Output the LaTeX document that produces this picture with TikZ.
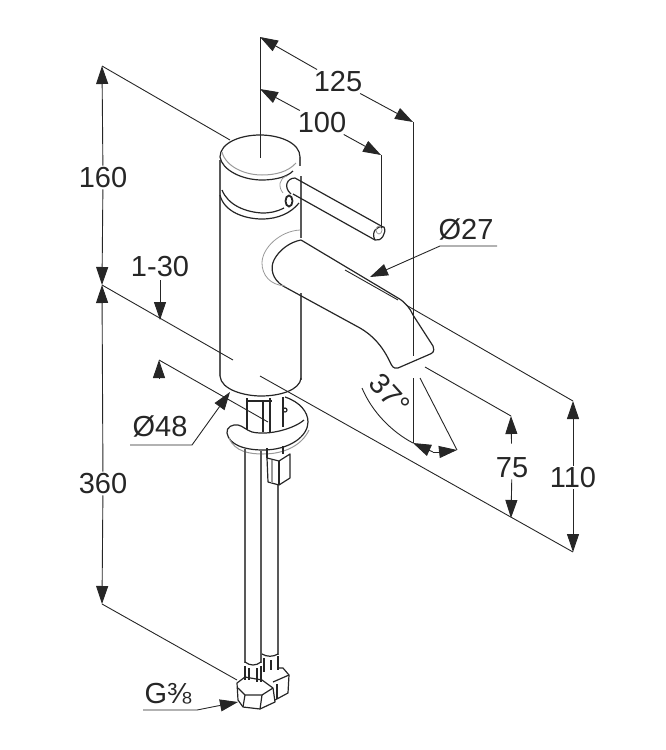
\documentclass[tikz,border=0pt]{standalone}
\usepackage{fontspec}
\setmainfont{Liberation Sans}
\usetikzlibrary{arrows.meta}
\tikzset{
    dimline/.style={line width=0.9pt, draw=black!85},
    dimarrow/.style={dimline, -{Triangle[length=18pt,width=12pt]}},
    dimlabel/.style={inner sep=1.5pt, yshift=-1.5pt, font=\fontsize{29}{30}\selectfont, text=black!85},
    outline/.style={line width=1.2pt, draw=black!85, line join=round},
    heavy/.style={line width=1.7pt, draw=black!65},
    collar/.style={line width=0.8pt, draw=black!40}
}
\begin{document}
\begin{tikzpicture}[x=1pt,y=-1pt]
    \useasboundingbox (0,0) rectangle (666,750);

    % Draw body and cap
    \draw[heavy] (220,160) -- (220,376);
    \draw[heavy] (301,176) -- (301,238);
    \draw[heavy] (301,293) -- (301,380);
    \draw[outline] (220,376) .. controls (221,390) and (245,396) .. (261,396) .. controls (280,396) and (300,390) .. (301,378);
    \draw[outline] (220,157) .. controls (220,143) and (240,135) .. (260,135) .. controls (280,135) and (300,143) .. (300,157);
    \draw[outline] (220,157) .. controls (222,170) and (242,180) .. (262,180) .. controls (275,180) and (287,177) .. (293,171);
    \draw[collar, line width=1pt] (222,152) .. controls (226,167) and (245,175) .. (262,175) .. controls (275,175) and (288,172) .. (296,163);
    \draw[heavy] (300,157) -- (300,166);
    \draw[outline] (220,195) .. controls (224,212) and (245,219) .. (262,219) .. controls (278,219) and (291,213) .. (299,203);
    \draw[outline] (222,190) .. controls (228,205) and (245,212) .. (262,213) .. controls (270,213) and (276,212) .. (284,208);

    % Draw lever
    \draw[outline] (295,178) -- (383,227);
    \draw[outline] (293,194) -- (375,240);
    \draw[outline] (295,178) .. controls (287,178) and (283,187) .. (291,194);
    \draw[outline] (375,240) .. controls (371,233) and (376,225) .. (384,227) .. controls (387,233) and (381,242) .. (375,240);
    \draw[collar] (379,230) ellipse [x radius=3, y radius=4];
    \draw[collar] (287,176) .. controls (279,178) and (278,187) .. (283,193);
    \draw[line width=1.8pt, black!85] (289,201) ellipse [x radius=3.5, y radius=5.5];

    % Draw spout
    \draw[outline] (301,240) -- (398,298) .. controls (405,302) and (410,308) .. (413,315) -- (433,346) .. controls (435,352) and (433,353) .. (428,355) -- (398,368) .. controls (393,369) and (392,366) .. (390,362) .. controls (382,345) and (372,335) .. (360,328) -- (283,286) .. controls (272,279) and (270,268) .. (274,260) .. controls (279,250) and (290,242) .. (301,240);
    \draw[collar] (300,230) .. controls (280,231) and (262,248) .. (262,263) .. controls (262,275) and (270,285) .. (285,286);

    % Draw washer and stems
    \draw[outline] (247,398) -- (247,430);
    \draw[outline] (263,400) -- (263,432);
    \draw[outline] (270,398) -- (270,432);
    \draw[outline] (283,397) -- (283,427);
    \draw[outline] (247,401) -- (272,401);
    \draw[outline] (285,410) circle [radius=2];
    \draw[outline] (285,397) .. controls (300,402) and (308,412) .. (308,422) .. controls (308,436) and (290,450) .. (263,450) .. controls (245,450) and (229,445) .. (227,433) .. controls (226,427) and (233,424) .. (238,425) .. controls (243,426) and (246,430) .. (252,432) .. controls (270,436) and (295,428) .. (304,420);
    \draw[collar, line width=1pt] (229,438) .. controls (235,452) and (250,454) .. (263,454) .. controls (285,454) and (302,445) .. (309,430);

    % Draw hoses
    \draw[heavy] (245,449) -- (245,663);
    \draw[heavy, line width=2pt] (261,451) -- (261,663);
    \draw[heavy] (278,485) -- (278,655);
    \draw[outline] (267,448) -- (267,458);
    \draw[outline] (283,446) -- (283,454);
    \draw[outline] (267,458) -- (279,461) -- (290,454) -- (290,478) -- (279,485) -- (268,482) -- cycle;
    \draw[outline] (279,461) -- (279,485);
    \draw[collar, line width=1.2pt] (272,460) -- (272,483);

    % Draw fittings and nuts
    \draw[outline] (245,662) .. controls (250,666) and (256,666) .. (261,662);
    \draw[outline] (262,654) .. controls (267,657) and (273,657) .. (278,654);
    \draw[outline] (245,666) -- (245,680);
    \draw[outline] (261,666) -- (261,682);
    \draw[outline] (249,668) -- (249,680);
    \draw[outline] (257,668) -- (257,682);
    \draw[outline] (264,658) -- (264,672);
    \draw[outline] (278,656) -- (278,670);
    \draw[outline] (271,660) -- (271,670);
    \draw[outline] (237,683) -- (238,700) -- (243,707) -- (260,709) -- (275,702) -- (273,688) -- (262,680) -- (245,677) -- cycle;
    \draw[outline] (238,688) -- (245,695) -- (262,695) -- (273,688);
    \draw[outline] (245,695) -- (243,707);
    \draw[outline] (262,695) -- (260,709);
    \draw[outline] (278,668) -- (283,668) -- (289,675) -- (288,693) -- (275,700);
    \draw[outline] (273,682) -- (289,675);
    \draw[outline] (277,684) -- (277,699);

    % Name the dimension points
    \coordinate (top125) at (260,37);
    \coordinate (top100) at (260,89);
    \coordinate (capmid) at (260,158);
    \coordinate (right125) at (413,122);
    \coordinate (right100) at (381,155);
    \coordinate (lever100) at (381,228);
    \coordinate (low125) at (413,356);
    \coordinate (low125b) at (413,378);
    \coordinate (base37) at (413,443);
    \coordinate (tilt37a) at (420,378);
    \coordinate (tilt37b) at (457,450);
    \coordinate (top160) at (102,66);
    \coordinate (cap160) at (230,140);
    \coordinate (deck) at (102,285);
    \coordinate (deckend) at (233,360);
    \coordinate (deckb) at (260,376);
    \coordinate (floor110) at (573,552);
    \coordinate (floor75) at (511,518);
    \coordinate (spoutc) at (345,270);
    \coordinate (spoutd) at (398,300);
    \coordinate (spoute) at (406,305);
    \coordinate (top110) at (573,401);
    \coordinate (top75) at (511,416);
    \coordinate (spoutf) at (425,367);
    \coordinate (low360) at (102,604);
    \coordinate (nut360) at (237,680);
    \coordinate (in130a) at (160,320);
    \coordinate (in130b) at (159,360);
    \coordinate (in130c) at (159,381);
    \coordinate (in130d) at (268,422);
    \coordinate (start130) at (160,280);
    \coordinate (head37a) at (433,452);
    \coordinate (head37b) at (439,452);

    % Draw labels
    \node[dimlabel] (lbl125) at (338,80) {125};
    \node[dimlabel] (lbl100) at (322,121) {100};
    \node[dimlabel] (lbl160) at (103,176) {160};
    \node[dimlabel] (lbl130) at (160,265) {1-30};
    \node[dimlabel] (lbl48) at (160,425) {Ø48};
    \node[dimlabel] (lbl27) at (466,228) {Ø27};
    \node[dimlabel] (lbl360) at (103,482) {360};
    \node[dimlabel] (lbl75) at (512,466) {75};
    \node[dimlabel] (lbl110) at (573,476) {110};
    \node[dimlabel, rotate=-48] (lbl37) at (390,393) {37°};
    \node[dimlabel, inner sep=0pt] (lblg) at (168,692) {G⅜};

    % Draw extension lines
    \draw[dimline] (top125) -- (capmid);
    \draw[dimline] (right125) -- (low125);
    \draw[dimline] (low125b) -- (base37);
    \draw[dimline] (right100) -- (lever100);
    \draw[dimline] (tilt37a) -- (tilt37b);
    \draw[dimline] (top160) -- (cap160);
    \draw[dimline] (deck) -- (deckend);
    \draw[dimline] (deckb) -- (floor110);
    \draw[dimline] (spoutc) -- (spoutd);
    \draw[dimline] (spoute) -- (top110);
    \draw[dimline] (spoutf) -- (top75);
    \draw[dimline] (low360) -- (nut360);
    \draw[dimline] (in130b) -- (in130d);

    % Draw dimension arrows
    \draw[dimarrow] (lbl125) -- (top125);
    \draw[dimarrow] (lbl125) -- (right125);
    \draw[dimarrow] (lbl100) -- (top100);
    \draw[dimarrow] (lbl100) -- (right100);
    \draw[dimarrow] (lbl160) -- (top160);
    \draw[dimarrow] (lbl160) -- (deck);
    \draw[dimarrow] (lbl360) -- (deck);
    \draw[dimarrow] (lbl360) -- (low360);
    \draw[dimarrow, shorten <=12pt] (lbl75) -- (top75);
    \draw[dimarrow] (lbl75) -- (floor75);
    \draw[dimarrow] (lbl110) -- (top110);
    \draw[dimarrow] (lbl110) -- (floor110);
    \draw[dimarrow] (start130) -- (in130a);
    \draw[dimarrow, shorten <=2pt] (in130c) -- (in130b);

    % Draw leaders with underlines
    \draw[dimarrow] (130,445) -- (192,445) -- (230,392);
    \draw[dimarrow] (497,246) -- (440,246) -- (370,277);
    \draw[dimarrow] (143,710) -- (197,710) -- (212,707) -- (238,702);

    % Draw the angle
    \draw[dimline] (362,388) .. controls (372,412) and (392,432) .. (413,443);
    \draw[dimarrow] (head37a) -- (base37);
    \draw[dimarrow] (head37b) -- (tilt37b);
    \draw[dimline] (head37a) -- (head37b);
\end{tikzpicture}
\end{document}
